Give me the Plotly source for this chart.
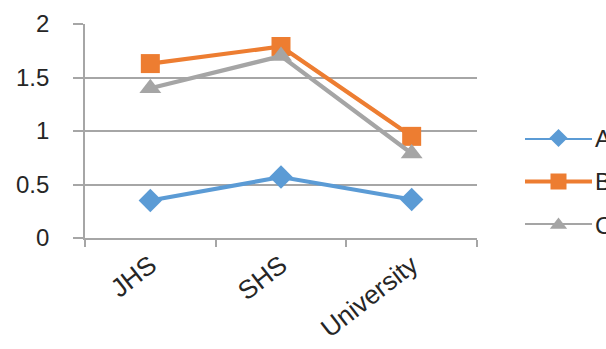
import plotly.graph_objects as go

# Education levels and the three series plotted against them
categories = ["JHS", "SHS", "University"]
series_names = ["A", "B", "C"]
values_a = [0.35, 0.57, 0.36]
values_b = [1.63, 1.79, 0.95]
values_c = [1.40, 1.70, 0.79]
y_ticks = [0, 0.5, 1, 1.5, 2]
y_tick_labels = ["0", "0.5", "1", "1.5", "2"]

W, H = 606, 349
colors = ["#5B9BD5", "#ED7D31", "#A5A5A5"]
symbols = ["diamond", "square", "triangle-up"]
marker_sizes = [18, 19, 19]
legend_marker_sizes = [14, 16, 15]
grid_color = "#A6A6A6"
text_color = "#262626"
font_family = "Liberation Sans, Arial, sans-serif"

# plot area in pixels
px_left, px_right, px_top, px_bottom = 85, 477, 24, 238
# legend strip in pixels
lg_left, lg_right, lg_top, lg_bottom = 525, 592, 138, 225

fig = go.Figure()

for name, vals, color, sym, ms in zip(series_names, [values_a, values_b, values_c],
                                      colors, symbols, marker_sizes):
    fig.add_trace(go.Scatter(
        x=categories, y=vals, name=name, mode="lines+markers",
        line=dict(color=color, width=4.2),
        marker=dict(symbol=sym, size=ms, color=color),
        cliponaxis=False, showlegend=False,
    ))

# legend drawn as short line segments with a centred marker
n = len(series_names)
for i, (name, color, sym, ms) in enumerate(zip(series_names, colors, symbols, legend_marker_sizes)):
    level = n - 1 - i
    fig.add_trace(go.Scatter(
        x=[0, 0.5, 1], y=[level, level, level], mode="lines",
        line=dict(color=color, width=4.2), xaxis="x2", yaxis="y2",
        showlegend=False, cliponaxis=False, hoverinfo="skip",
    ))
    fig.add_trace(go.Scatter(
        x=[0.5], y=[level], mode="markers",
        marker=dict(symbol=sym, size=ms, color=color), xaxis="x2", yaxis="y2",
        showlegend=False, cliponaxis=False, hoverinfo="skip",
    ))
    fig.add_annotation(
        x=1, y=level, xref="x2", yref="y2", text=name, showarrow=False,
        xanchor="left", yanchor="middle", xshift=1,
        font=dict(size=24, color=text_color, family=font_family),
    )

fig.update_layout(
    width=W, height=H,
    margin=dict(l=0, r=0, t=0, b=0),
    paper_bgcolor="white", plot_bgcolor="white",
    font=dict(family=font_family, color=text_color),
    xaxis=dict(
        domain=[px_left / W, px_right / W],
        type="category", range=[-0.5, 2.5],
        showgrid=False, showline=True, linecolor=grid_color, linewidth=1.8,
        ticks="outside", tickson="boundaries", ticklen=7, tickcolor=grid_color, tickwidth=1.8,
        tickangle=-38, tickfont=dict(size=26, color=text_color),
        automargin=False, zeroline=False,
    ),
    yaxis=dict(
        domain=[1 - px_bottom / H, 1 - px_top / H],
        range=[0, 2], tickvals=y_ticks, ticktext=y_tick_labels,
        showgrid=True, gridcolor=grid_color, gridwidth=1.8,
        showline=True, linecolor=grid_color, linewidth=1.8,
        ticks="outside", ticklen=10, tickcolor=grid_color, tickwidth=1.8,
        ticklabelstandoff=19,
        tickfont=dict(size=24, color=text_color),
        automargin=False, zeroline=False,
    ),
    xaxis2=dict(
        domain=[lg_left / W, lg_right / W], range=[0, 1], anchor="y2",
        visible=False, fixedrange=True,
    ),
    yaxis2=dict(
        domain=[1 - lg_bottom / H, 1 - lg_top / H], range=[0, n - 1], anchor="x2",
        visible=False, fixedrange=True,
    ),
)

fig.write_html("out.html")
